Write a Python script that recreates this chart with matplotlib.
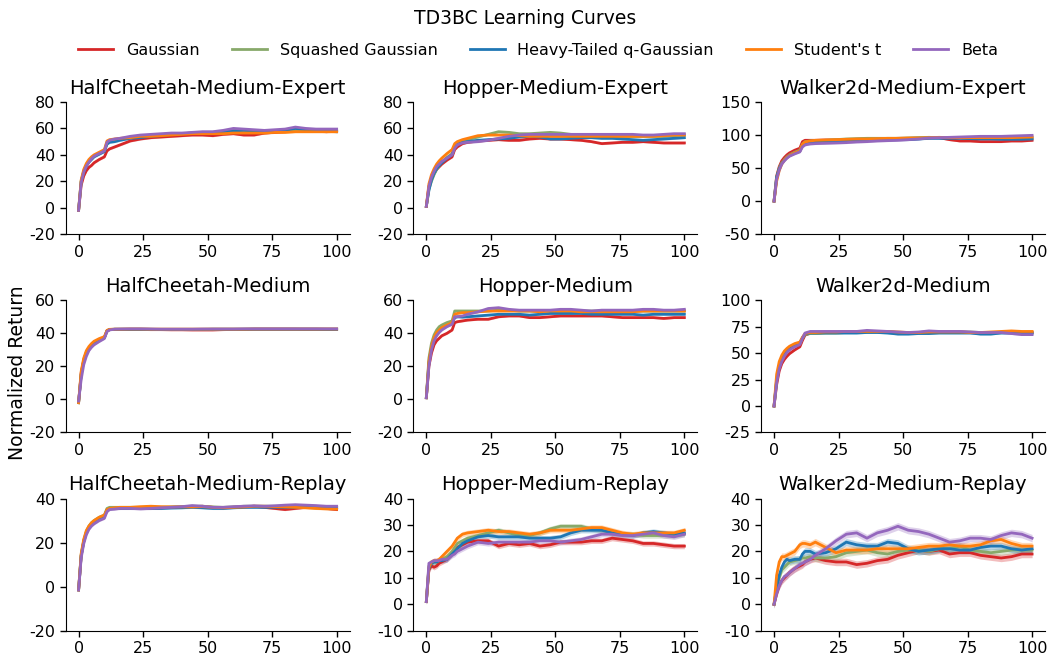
import matplotlib
matplotlib.use("Agg")
import matplotlib.pyplot as plt
import numpy as np

plt.rcParams["font.family"] = ["DejaVu Sans"]
plt.rcParams["axes.unicode_minus"] = False

# Training epochs at which the returns were logged
epochs = [0, 1, 2, 3, 4, 5, 6, 8, 10, 11, 12, 14, 16,
          20, 24, 28, 32, 36, 40, 44, 48, 52, 56, 60, 64, 68, 72, 76, 80, 84, 88, 92, 96, 100]

methods = ["Gaussian", "Squashed Gaussian", "Heavy-Tailed q-Gaussian", "Student's t", "Beta"]
colors = ["#d62728", "#88a96a", "#1f77b4", "#ff7f0e", "#9467bd"]

envs = ["HalfCheetah-Medium-Expert", "Hopper-Medium-Expert", "Walker2d-Medium-Expert",
        "HalfCheetah-Medium", "Hopper-Medium", "Walker2d-Medium",
        "HalfCheetah-Medium-Replay", "Hopper-Medium-Replay", "Walker2d-Medium-Replay"]

ylims = [(-20, 80), (-20, 80), (-50, 150),
         (-20, 60), (-20, 60), (-25, 100),
         (-20, 40), (-10, 40), (-10, 40)]
yticks = [[-20, 0, 20, 40, 60, 80], [-20, 0, 20, 40, 60, 80], [-50, 0, 50, 100, 150],
          [-20, 0, 20, 40, 60], [-20, 0, 20, 40, 60], [-25, 0, 25, 50, 75, 100],
          [-20, 0, 20, 40], [-10, 0, 10, 20, 30, 40], [-10, 0, 10, 20, 30, 40]]

# Mean normalized return per method (order: Gaussian, Squashed, q-Gaussian, Student's t, Beta)
hc_me = [
    [-2, 17, 24, 28, 30.5, 32, 34, 36.5, 38.5, 43, 44.5, 46, 47.5, 50.5, 52, 53, 53.5, 54, 54.5, 55, 55, 54.5, 55.5, 56, 55, 55, 56.5, 57, 57.5, 58, 58, 58, 57.5, 58],
    [-2, 20, 28, 32, 35, 37, 39, 41, 43, 49, 50.5, 51.5, 52, 53, 54, 54.5, 55, 55.5, 56, 56.5, 57, 57, 57.5, 58.5, 58.5, 58, 57.5, 58, 58.5, 59, 59, 58.5, 58.5, 58.5],
    [-2, 20, 27, 31.5, 34.5, 36.5, 38.5, 40.5, 42.5, 48, 49.5, 50, 51, 52.5, 53, 54, 54.5, 55.5, 56, 56.5, 57, 57, 57.5, 58, 58.5, 58, 57.5, 58, 58.5, 60, 59, 58.5, 58, 57.5],
    [-2, 21, 29, 33.5, 36.5, 38.5, 40, 42, 44, 50.5, 51.5, 52, 52.5, 53, 54, 54, 54.5, 55, 55.5, 56, 56, 56, 56, 56.5, 56.5, 56.5, 56.5, 57, 57, 57.5, 57.5, 57.5, 57.5, 57.5],
    [-2, 19, 27, 31.5, 34.5, 37, 39, 41, 43, 49.5, 51, 52, 52.5, 54, 55, 55.5, 56, 56.5, 56.5, 57, 57.5, 57.5, 58.5, 60, 59.5, 59, 58.5, 59, 59.5, 61, 60, 59.5, 59.5, 59.5],
]
hop_me = [
    [1, 16, 22, 26, 29, 31, 33, 36, 38.5, 44, 46, 48.5, 49.5, 50.5, 51, 51.5, 51, 51, 52, 52.5, 52, 52, 51.5, 51, 50, 48.5, 49, 49.5, 49.5, 50, 49.5, 49, 49, 49],
    [1, 14, 20, 25, 29, 32, 34.5, 38, 41, 46, 48, 50, 51.5, 53.5, 55.5, 57.5, 57, 56, 56, 56.5, 57, 56.5, 55.5, 55, 55, 54.5, 54, 54, 54, 54, 54, 54, 54.5, 55],
    [1, 13, 21, 26, 29.5, 32, 34, 37.5, 40, 46, 48, 49.5, 50, 51, 51.5, 52, 52.5, 53.5, 54, 53.5, 52, 52, 52.5, 53, 53, 52.5, 52.5, 52, 51.5, 51, 51.5, 52, 52.5, 53],
    [1, 18, 25, 29.5, 33, 35.5, 37.5, 41, 44, 48.5, 50, 51.5, 52.5, 54.5, 55, 55, 55, 54.5, 54, 54, 54, 54, 54, 54, 54, 54, 54, 54, 54, 54, 54, 54.5, 55, 55],
    [1, 16, 23, 27.5, 31, 33, 35, 37.5, 40, 45, 47.5, 49, 49.5, 50, 51, 52.5, 54, 55, 55.5, 55.5, 55.5, 55.5, 55.5, 55.5, 55.5, 55.5, 55.5, 55.5, 55.5, 55, 55, 55.5, 56, 56],
]
wk_me = [
    [0, 38, 52, 61, 66, 70, 73, 77, 80, 90, 92, 92, 92, 92.5, 92.5, 93, 93.5, 94, 94.5, 94.5, 95, 95, 95.5, 96, 96, 93, 91, 91, 90, 90, 90, 91, 91, 92],
    [0, 36, 50, 58, 63, 67, 70, 74, 77, 86, 90, 91, 91.5, 92, 93, 94, 94.5, 95, 95, 95, 95, 95.5, 96, 96.5, 96, 96, 96, 96, 96, 96, 96, 96, 96, 96],
    [0, 36, 49, 57, 62, 66, 69, 72.5, 75.5, 84, 88, 89, 89.5, 90, 90.5, 91, 91.5, 92, 92, 92.5, 93, 93, 94, 95, 95, 95, 95, 94.5, 94, 94, 93.5, 93.5, 93.5, 94],
    [0, 30, 46, 56, 62, 66, 69, 73, 76, 86, 89.5, 91, 92, 92.5, 93, 93.5, 94, 94, 94.5, 95, 95, 95.5, 95.5, 96, 96.5, 96, 96, 96, 96, 96, 96, 96, 96.5, 97],
    [0, 33, 47, 56, 61, 65, 68, 71.5, 74.5, 82, 85, 86.5, 87, 87.5, 88, 88.5, 89.5, 90, 91, 91.5, 92, 93, 94, 95.5, 96, 96.5, 97, 97.5, 98, 98, 98, 98.5, 99, 99.5],
]
hc_m = [
    [-2, 16, 24, 28.5, 31, 33, 34.5, 36, 37.5, 41.5, 42.2, 42.3, 42.3, 42.3, 42.3, 42.2, 42.2, 42.1, 42.1, 42, 42, 42, 42.2, 42.3, 42.3, 42.4, 42.4, 42.4, 42.4, 42.4, 42.3, 42.3, 42.3, 42.3],
    [-2, 15, 23.5, 28, 30.5, 32.5, 34, 35.8, 37.2, 41.5, 42.3, 42.5, 42.5, 42.5, 42.5, 42.4, 42.4, 42.4, 42.4, 42.4, 42.4, 42.5, 42.5, 42.5, 42.5, 42.5, 42.5, 42.5, 42.5, 42.5, 42.5, 42.5, 42.5, 42.5],
    [-2, 15, 23.5, 28, 30.5, 32.5, 34, 35.8, 37.3, 41.5, 42.2, 42.4, 42.4, 42.4, 42.4, 42.4, 42.3, 42.3, 42.3, 42.3, 42.3, 42.4, 42.4, 42.4, 42.4, 42.5, 42.5, 42.5, 42.5, 42.5, 42.5, 42.5, 42.4, 42.4],
    [-2, 17, 25, 29.5, 32, 33.8, 35.2, 36.8, 38, 41.8, 42.4, 42.5, 42.5, 42.6, 42.6, 42.5, 42.5, 42.5, 42.5, 42.5, 42.5, 42.5, 42.5, 42.5, 42.5, 42.6, 42.6, 42.6, 42.6, 42.6, 42.6, 42.6, 42.6, 42.6],
    [-1, 12, 21, 26, 29.5, 31.5, 33, 35, 36.8, 41, 42, 42.5, 42.6, 42.7, 42.7, 42.6, 42.5, 42.5, 42.5, 42.5, 42.6, 42.6, 42.6, 42.6, 42.7, 42.7, 42.7, 42.7, 42.7, 42.7, 42.7, 42.7, 42.7, 42.7],
]
hop_m = [
    [1, 20, 28, 33, 35.5, 37, 38.5, 40, 42, 46.5, 47, 47.5, 48, 48.5, 48.5, 50, 50.5, 50.5, 49.5, 49.5, 50, 50.5, 50.5, 50.5, 50.5, 50.5, 50, 49.5, 49.5, 49.5, 49.5, 49, 49.5, 49.5],
    [1, 25, 34, 39, 42, 44, 45, 46.5, 47.5, 53.5, 53.5, 53.5, 53.5, 53.5, 53.5, 54, 54, 53.5, 53.5, 53.5, 53.5, 53.5, 53.5, 53.5, 53.5, 53.5, 53.5, 53.5, 53.5, 53.5, 53.5, 53.5, 53.5, 53.5],
    [1, 22, 31, 36, 39.5, 41.5, 43, 44.5, 46, 49.5, 50, 49.8, 50, 50.5, 51, 51.5, 51.5, 51.5, 51, 51.5, 52, 52, 52, 52, 51.5, 51.5, 51.5, 51.5, 51.5, 51, 51.5, 51.5, 51.5, 51.5],
    [1, 23, 32, 37.5, 40.5, 42, 43.5, 45, 46.5, 51.5, 52, 52.5, 52.5, 53, 53.5, 53.5, 53.5, 53.5, 53.5, 53, 53.5, 53.5, 53.5, 53, 53, 53, 53, 53, 53, 53.5, 53.5, 53.5, 53.5, 53.5],
    [1, 20, 30, 35.5, 38.5, 40.5, 42, 44, 45.5, 50, 50, 50.5, 51.5, 53, 55, 55.5, 54.5, 54, 54, 54, 54, 54.5, 54.5, 54, 53.5, 54, 54, 54, 54, 54.5, 54.5, 54, 54, 54.5],
]
wk_m = [
    [0, 20, 33, 40, 44, 47, 49.5, 53, 56, 62, 67, 69, 69, 69.5, 69.5, 70, 70, 70.5, 70.5, 70, 69.5, 69, 69.5, 70, 70, 70, 70, 69.5, 69.5, 69.5, 69.5, 69.5, 69.5, 69.5],
    [0, 25, 38, 45, 49, 52, 54, 57, 59, 64, 67.5, 68.5, 68.5, 69, 69, 69.5, 69.5, 70, 70, 70, 69.5, 69.5, 69.5, 69.5, 69.5, 70, 70, 70, 69.5, 69.5, 69.5, 69.5, 69, 69],
    [0, 24, 37, 44, 49, 52, 54.5, 57.5, 59.5, 64.5, 68, 69, 69, 69, 69, 69, 69, 69.5, 69.5, 69, 68, 68, 68.5, 68.5, 69, 69, 69, 69, 68, 68, 69, 69, 69, 69],
    [0, 30, 42, 48, 52, 54.5, 56.5, 59, 60.5, 65, 68.5, 69.5, 69.5, 70, 70, 70.5, 70.5, 70.5, 70.5, 70.5, 70, 69.5, 69.5, 70, 70, 70, 70, 69.5, 69.5, 70, 70.5, 71, 70.5, 70.5],
    [0, 22, 35, 42, 47, 50.5, 53, 56, 58, 64, 69, 70.5, 70.5, 70.5, 70.5, 70.5, 70.5, 71.5, 71, 70.5, 70, 69.5, 70, 71, 70.5, 70.5, 70.5, 70, 69.5, 69.5, 69.5, 68.5, 67.5, 67.5],
]
hc_mr = [
    [-1.5, 14, 20.5, 24.5, 27, 28.5, 29.5, 31, 32, 34.5, 35.5, 35.5, 35.5, 35.8, 35.5, 35.5, 35.8, 36, 36.2, 36.3, 36.5, 36, 35.8, 36, 36.2, 36.5, 36, 35.5, 35, 35.5, 36, 36, 35.5, 35],
    [-1.5, 14.5, 21, 25, 27.5, 29, 30, 31.5, 32.5, 35.5, 36, 36, 36, 36, 36, 36, 36, 36.2, 36.3, 36.5, 36.5, 36.2, 36, 36.2, 36.5, 36.5, 36.5, 36.5, 36.5, 36.3, 36.3, 36.3, 36.2, 36],
    [-1.5, 14, 20.5, 24.5, 27, 28.5, 29.5, 31, 32, 34.8, 35.3, 35.5, 35.5, 35.5, 35.5, 35.5, 35.5, 35.7, 35.8, 36, 35.8, 35.5, 35.5, 35.8, 36, 36, 36, 36, 36, 36, 36, 35.8, 36, 36],
    [-1.5, 15, 21.5, 25.5, 27.5, 29, 30, 31.5, 32.5, 35, 35.5, 35.8, 36, 36, 36.3, 36.5, 36.3, 36.2, 36.2, 36.2, 36.3, 36, 35.8, 36, 36.2, 36.5, 36.5, 36.3, 36.2, 36, 35.8, 35.5, 35.3, 35.2],
    [-1.5, 13, 19.5, 23.5, 26, 27.5, 28.5, 30, 31, 34, 35, 35.2, 35.5, 35.5, 35.3, 35.5, 35.8, 36, 36.3, 36.8, 36.5, 36, 36, 36.3, 36.5, 36.7, 36.5, 36.7, 37, 37.2, 37, 36.8, 36.5, 36.5],
]
hop_mr = [
    [1, 13, 14.5, 14, 14.5, 15.5, 16, 17, 19, 20.5, 21.5, 22.5, 23.5, 24, 24, 22, 23, 22.5, 23, 22, 22.5, 23.5, 23.5, 23.5, 24, 24, 25, 24.5, 24, 23, 23, 22.5, 22, 22],
    [1, 14.5, 15.5, 16, 16, 16.5, 17, 18, 20, 21.5, 23, 24, 25, 26, 27, 28, 27, 26, 26, 27, 28.5, 29.5, 29.5, 29.5, 28.5, 28, 27, 26.5, 26.5, 26, 26, 26, 26, 26.5],
    [1, 13.5, 15.5, 16, 16, 16.5, 16.5, 17, 19, 20, 21, 23, 24, 25.5, 26, 25.5, 25.5, 25.5, 25, 25, 25, 25.5, 27, 28, 28, 28, 27, 26.5, 26, 27, 27.5, 27, 26.5, 27],
    [1, 14, 16, 16.5, 16.5, 17, 18, 20, 22, 23.5, 25, 26.5, 27, 27.5, 28, 27.5, 27.5, 27, 26.5, 27, 28, 28, 28, 28.5, 29, 29, 28, 27, 26.5, 27, 27, 27, 27, 28],
    [1, 15.5, 16, 16.5, 16.5, 16.5, 17, 17, 18.5, 19, 20, 21, 22, 23.5, 23, 23.5, 23.5, 23.5, 23.5, 24, 24, 23.5, 24, 24.5, 25.5, 26.5, 26.5, 26, 26, 26.5, 27, 26, 25.5, 26.5],
]
wk_mr = [
    [0, 4, 7, 9, 10, 11, 12, 13.5, 14.5, 15, 16, 17, 17.5, 16.5, 16, 16, 15, 15.5, 16.5, 17, 18.5, 19.5, 20.5, 20, 20.5, 19, 19.5, 19.5, 18.5, 18, 17.5, 18, 19, 19],
    [0, 6, 10, 13, 14, 15, 16, 16.5, 17, 17.5, 17.5, 18, 17.5, 17.5, 18, 19.5, 20, 20.5, 19.5, 19, 20, 20.5, 20.5, 20, 21, 21, 22, 20.5, 20, 19.5, 20, 20.5, 20.5, 20.5],
    [0, 6, 11, 14, 16, 17, 16.5, 17, 17, 19, 20, 20, 19, 19.5, 21, 23.5, 22.5, 22, 22, 23.5, 23, 21, 20, 20.5, 21, 21, 20.5, 20.5, 21.5, 22, 22, 21, 20.5, 21],
    [0, 11, 16, 18, 18, 18.5, 19, 20, 22.5, 23, 23, 22.5, 23.5, 21.5, 19.5, 20.5, 20.5, 20.5, 21, 21, 21, 21, 21.5, 22, 22, 22.5, 22, 22, 22.5, 24, 24.5, 23, 22, 22],
    [0, 4, 7, 9, 10.5, 11, 12, 13.5, 15, 15.5, 16, 17, 18.5, 21, 24, 26.5, 27, 25, 27, 28, 29.5, 28, 27.5, 26.5, 25, 23.5, 24, 25, 25, 24.5, 26, 27, 26.5, 25],
]

# Half-width of the shaded spread around each mean curve, per environment
spread = [0.8, 0.8, 1.5, 0.3, 0.6, 0.8, 0.5, 1.0, 1.4]

curves = [hc_me, hop_me, wk_me, hc_m, hop_m, wk_m, hc_mr, hop_mr, wk_mr]

fig, axes = plt.subplots(3, 3, figsize=(10.51, 6.6), dpi=100)
fig.subplots_adjust(left=0.0625, right=0.9943, bottom=0.0444, top=0.8455,
                    wspace=0.225, hspace=0.5)

x = np.array(epochs)
for i, ax in enumerate(axes.flat):
    for m, (name, col) in enumerate(zip(methods, colors)):
        y = np.array(curves[i][m], dtype=float)
        ax.fill_between(x, y - spread[i], y + spread[i], color=col, alpha=0.3, lw=0)
        ax.plot(x, y, color=col, lw=2, label=name)
    ax.set_title(envs[i], fontsize=14, pad=6)
    ax.set_ylim(*ylims[i])
    ax.set_yticks(yticks[i])
    ax.set_yticklabels([str(t) for t in yticks[i]])
    ax.set_xlim(-5, 105)
    ax.set_xticks([0, 25, 50, 75, 100])
    ax.tick_params(labelsize=11.5, length=4, width=1)
    ax.spines["top"].set_visible(False)
    ax.spines["right"].set_visible(False)

handles, labels = axes[0, 0].get_legend_handles_labels()
fig.legend(handles, labels, loc="center", bbox_to_anchor=(0.512, 0.924), ncol=5,
           frameon=False, fontsize=11.5, handlelength=2.2, columnspacing=2.0)
fig.suptitle("TD3BC Learning Curves", y=0.986, fontsize=13.5)
fig.text(0.017, 0.435, "Normalized Return", rotation=90, va="center", ha="center", fontsize=13.5)

fig.savefig("out.png", dpi=100)
